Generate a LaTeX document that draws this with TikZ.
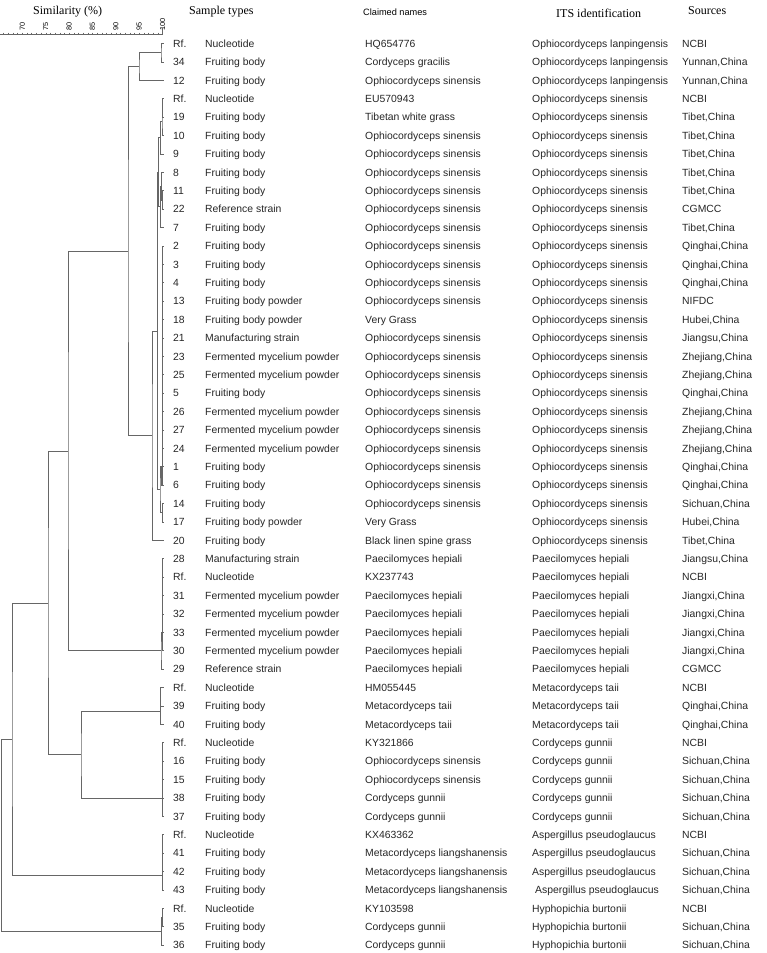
\documentclass[tikz,border=0pt]{standalone}
\usepackage{fontspec}
\setmainfont{Liberation Serif}
\setsansfont{Liberation Sans}

\tikzset{
    tree/.style={draw=black!60, line width=0.8pt},
    cell/.style={anchor=base west, inner sep=0pt, text=black!85, font=\sffamily\fontsize{10.4}{12}\selectfont},
    head/.style={anchor=west, inner sep=0pt, font=\rmfamily\fontsize{12}{14}\selectfont},
    scl/.style={inner sep=0pt, font=\sffamily\fontsize{7.3}{8}\selectfont}
}

\begin{document}
\begin{tikzpicture}[x=1pt, y=-1pt]
    \useasboundingbox (0,0) rectangle (766,953);

    % similarity scale
    \draw[tree] (0,34) -- (162.5,34);
    \foreach \s in {66,...,100}
	\draw[tree, line width=0.5pt] ({162.5-4.67*(100-\s)},32.7) -- ++(0,2.6);
    \foreach \s in {70,75,...,100}
	\node[scl, rotate=90, anchor=west] (sc\s) at ({162.5-4.67*(100-\s)},31) {\s};
    \draw[tree] (162.5,34) -- (162.5,28);

    % column heads
    \node[head] (hsim) at (33,12) {Similarity (\%)};
    \node[head] (htype) at (189,12) {Sample types};
    \node[anchor=west, inner sep=0pt, font=\sffamily\fontsize{9.2}{11}\selectfont] (hclaim) at (363,12) {Claimed names};
    \node[head] (hits) at (556,13) {ITS identification};
    \node[head] (hsrc) at (688,11) {Sources};

    % rows
    \foreach \i/\id/\kind/\claim/\its/\src in {
	0/Rf./Nucleotide/HQ654776/Ophiocordyceps lanpingensis/NCBI,
	1/34/Fruiting body/Cordyceps gracilis/Ophiocordyceps lanpingensis/{Yunnan,China},
	2/12/Fruiting body/Ophiocordyceps sinensis/Ophiocordyceps lanpingensis/{Yunnan,China},
	3/Rf./Nucleotide/EU570943/Ophiocordyceps sinensis/NCBI,
	4/19/Fruiting body/Tibetan white grass/Ophiocordyceps sinensis/{Tibet,China},
	5/10/Fruiting body/Ophiocordyceps sinensis/Ophiocordyceps sinensis/{Tibet,China},
	6/9/Fruiting body/Ophiocordyceps sinensis/Ophiocordyceps sinensis/{Tibet,China},
	7/8/Fruiting body/Ophiocordyceps sinensis/Ophiocordyceps sinensis/{Tibet,China},
	8/11/Fruiting body/Ophiocordyceps sinensis/Ophiocordyceps sinensis/{Tibet,China},
	9/22/Reference strain/Ophiocordyceps sinensis/Ophiocordyceps sinensis/CGMCC,
	10/7/Fruiting body/Ophiocordyceps sinensis/Ophiocordyceps sinensis/{Tibet,China},
	11/2/Fruiting body/Ophiocordyceps sinensis/Ophiocordyceps sinensis/{Qinghai,China},
	12/3/Fruiting body/Ophiocordyceps sinensis/Ophiocordyceps sinensis/{Qinghai,China},
	13/4/Fruiting body/Ophiocordyceps sinensis/Ophiocordyceps sinensis/{Qinghai,China},
	14/13/Fruiting body powder/Ophiocordyceps sinensis/Ophiocordyceps sinensis/NIFDC,
	15/18/Fruiting body powder/Very Grass/Ophiocordyceps sinensis/{Hubei,China},
	16/21/Manufacturing strain/Ophiocordyceps sinensis/Ophiocordyceps sinensis/{Jiangsu,China},
	17/23/Fermented mycelium powder/Ophiocordyceps sinensis/Ophiocordyceps sinensis/{Zhejiang,China},
	18/25/Fermented mycelium powder/Ophiocordyceps sinensis/Ophiocordyceps sinensis/{Zhejiang,China},
	19/5/Fruiting body/Ophiocordyceps sinensis/Ophiocordyceps sinensis/{Qinghai,China},
	20/26/Fermented mycelium powder/Ophiocordyceps sinensis/Ophiocordyceps sinensis/{Zhejiang,China},
	21/27/Fermented mycelium powder/Ophiocordyceps sinensis/Ophiocordyceps sinensis/{Zhejiang,China},
	22/24/Fermented mycelium powder/Ophiocordyceps sinensis/Ophiocordyceps sinensis/{Zhejiang,China},
	23/1/Fruiting body/Ophiocordyceps sinensis/Ophiocordyceps sinensis/{Qinghai,China},
	24/6/Fruiting body/Ophiocordyceps sinensis/Ophiocordyceps sinensis/{Qinghai,China},
	25/14/Fruiting body/Ophiocordyceps sinensis/Ophiocordyceps sinensis/{Sichuan,China},
	26/17/Fruiting body powder/Very Grass/Ophiocordyceps sinensis/{Hubei,China},
	27/20/Fruiting body/Black linen spine grass/Ophiocordyceps sinensis/{Tibet,China},
	28/28/Manufacturing strain/Paecilomyces hepiali/Paecilomyces hepiali/{Jiangsu,China},
	29/Rf./Nucleotide/KX237743/Paecilomyces hepiali/NCBI,
	30/31/Fermented mycelium powder/Paecilomyces hepiali/Paecilomyces hepiali/{Jiangxi,China},
	31/32/Fermented mycelium powder/Paecilomyces hepiali/Paecilomyces hepiali/{Jiangxi,China},
	32/33/Fermented mycelium powder/Paecilomyces hepiali/Paecilomyces hepiali/{Jiangxi,China},
	33/30/Fermented mycelium powder/Paecilomyces hepiali/Paecilomyces hepiali/{Jiangxi,China},
	34/29/Reference strain/Paecilomyces hepiali/Paecilomyces hepiali/CGMCC,
	35/Rf./Nucleotide/HM055445/Metacordyceps taii/NCBI,
	36/39/Fruiting body/Metacordyceps taii/Metacordyceps taii/{Qinghai,China},
	37/40/Fruiting body/Metacordyceps taii/Metacordyceps taii/{Qinghai,China},
	38/Rf./Nucleotide/KY321866/Cordyceps gunnii/NCBI,
	39/16/Fruiting body/Ophiocordyceps sinensis/Cordyceps gunnii/{Sichuan,China},
	40/15/Fruiting body/Ophiocordyceps sinensis/Cordyceps gunnii/{Sichuan,China},
	41/38/Fruiting body/Cordyceps gunnii/Cordyceps gunnii/{Sichuan,China},
	42/37/Fruiting body/Cordyceps gunnii/Cordyceps gunnii/{Sichuan,China},
	43/Rf./Nucleotide/KX463362/Aspergillus pseudoglaucus/NCBI,
	44/41/Fruiting body/Metacordyceps liangshanensis/Aspergillus pseudoglaucus/{Sichuan,China},
	45/42/Fruiting body/Metacordyceps liangshanensis/Aspergillus pseudoglaucus/{Sichuan,China},
	46/43/Fruiting body/Metacordyceps liangshanensis/{\hspace{3pt}Aspergillus pseudoglaucus}/{Sichuan,China},
	47/Rf./Nucleotide/KY103598/Hyphopichia burtonii/NCBI,
	48/35/Fruiting body/Cordyceps gunnii/Hyphopichia burtonii/{Sichuan,China},
	49/36/Fruiting body/Cordyceps gunnii/Hyphopichia burtonii/{Sichuan,China}}
    {
	\pgfmathsetmacro\yy{43.5+18.4*\i}
	\pgfmathsetmacro\yb{\yy+3.7}
	\coordinate (l\i) at (163.5,\yy);
	\node[cell] (id\i) at (173,\yb) {\id};
	\node[cell] (kind\i) at (205,\yb) {\kind};
	\node[cell] (claim\i) at (365,\yb) {\claim};
	\node[cell] (its\i) at (532,\yb) {\its};
	\node[cell] (src\i) at (682,\yb) {\src};
    }

    % tree joints
    \coordinate (nRf) at (161,52.7);
    \coordinate (nCl) at (139,66.5);
    \coordinate (n1) at (162.7,107.9);
    \coordinate (n2) at (162,121.7);
    \coordinate (nA1) at (160.8,137.8);
    \coordinate (n3) at (162.2,199.9);
    \coordinate (n4) at (161.6,186.1);
    \coordinate (nA2) at (160.8,206.8);
    \coordinate (nA) at (158.3,172.3);
    \coordinate (nB) at (162.6,466.7);
    \coordinate (nB1) at (162,310.3);
    \coordinate (nB2) at (162,347.1);
    \coordinate (nB3) at (162,420.7);
    \coordinate (nB4) at (161.6,475.9);
    \coordinate (n1417) at (162.3,512.7);
    \coordinate (nBx) at (160,489.7);
    \coordinate (nOsAB) at (157.3,331);
    \coordinate (nOs) at (152,435.7);
    \coordinate (n128) at (128,251.1);
    \coordinate (nP1) at (162.6,632.3);
    \coordinate (nP2) at (162,632.3);
    \coordinate (nPh) at (161,650.7);
    \coordinate (n68) at (68,450.9);
    \coordinate (nMT) at (160.7,711.4);
    \coordinate (nCG) at (162.6,797.9);
    \coordinate (nCG2) at (162,788.7);
    \coordinate (n81) at (81,754.7);
    \coordinate (n48) at (48,602.9);
    \coordinate (nC41) at (162.6,875.2);
    \coordinate (n12) at (12,739);
    \coordinate (n35) at (162.7,917.5);
    \coordinate (nC35) at (161.7,931.3);
    \coordinate (root) at (1.7,835.1);

    % backbone
    \draw[tree] (l0) -| (nRf) |- (l1);
    \draw[tree] (nRf) -| (nCl) |- (l2);
    \draw[tree] (nCl) -| (n128) |- (nOs);
    \draw[tree] (n128) -| (n68) |- (nPh);
    \draw[tree] (n68) -| (n48) |- (n81);
    \draw[tree] (n48) -| (n12) |- (nC41);
    \draw[tree] (n12) -| (root) |- (nC35);

    % Ophiocordyceps sinensis group
    \draw[tree] (nOsAB) -| (nOs) |- (l27);
    \draw[tree] (nA) -| (nOsAB) |- (nBx);
    \draw[tree] (nA1) -| (nA) |- (nA2);
    \draw[tree] (l3) -| (n1) |- (l4);
    \draw[tree] (n1) -| (n2) |- (l5);
    \draw[tree] (n2) -| (nA1) |- (l6);
    \draw[tree] (l8) -| (n3) |- (l9);
    \draw[tree] (l7) -| (n4) |- (n3);
    \draw[tree] (n4) -| (nA2) |- (l10);
    \draw[tree] (l11) -| (nB) |- (l24);
    \foreach \k in {12,...,23}
	\draw[tree] (nB |- l\k) -- (l\k);
    \draw[tree] (l14) -| (nB1) |- (l15);
    \draw[tree] (l16) -| (nB2) |- (l17);
    \draw[tree] (l20) -| (nB3) |- (l21);
    \draw[tree] (l23) -| (nB4) |- (l24);
    \draw[tree] (nB) -| (nBx) |- (n1417);
    \draw[tree] (l25) -| (n1417) |- (l26);

    % Paecilomyces hepiali group
    \draw[tree] (l28) -| (nP1) |- (l33);
    \foreach \k in {29,...,32}
	\draw[tree] (nP1 |- l\k) -- (l\k);
    \draw[tree] (l31) -| (nP2) |- (l33);
    \draw[tree] (nP1) -| (nPh) |- (l34);

    % Metacordyceps and Cordyceps gunnii
    \draw[tree] (l35) -| (nMT) |- (l37);
    \draw[tree] (nMT |- l36) -- (l36);
    \draw[tree] (l38) -| (nCG) |- (l42);
    \foreach \k in {39,40,41}
	\draw[tree] (nCG |- l\k) -- (l\k);
    \draw[tree] (l40) -| (nCG2) |- (l41);
    \draw[tree] (nMT) -| (n81) |- (nCG);

    % Aspergillus and Hyphopichia
    \draw[tree] (l43) -| (nC41) |- (l46);
    \foreach \k in {44,45}
	\draw[tree] (nC41 |- l\k) -- (l\k);
    \draw[tree] (l47) -| (n35) |- (l48);
    \draw[tree] (n35) -| (nC35) |- (l49);
\end{tikzpicture}
\end{document}
